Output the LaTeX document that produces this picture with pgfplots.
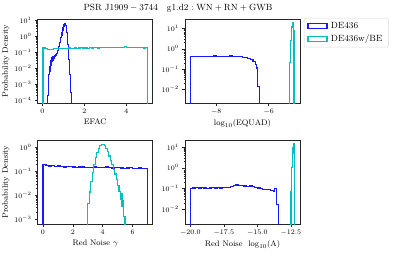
\documentclass[border=0pt]{standalone}
\usepackage{pgfplots}
\pgfplotsset{compat=1.18}
\definecolor{mplblue}{rgb}{0.1,0.1,1}
\definecolor{mplcyan}{rgb}{0,0.75,0.75}
\pgfplotsset{
  mypanel/.style={
    scale only axis, width=115pt, anchor=south west,
    tick align=outside, tick pos=left,
    axis line style={line width=0.6pt, black!85},
    every tick/.style={black!85, line width=0.5pt},
    major tick length=2.6pt, minor tick length=1.5pt,
    ticklabel style={font=\fontsize{7}{8}\selectfont},
    label style={font=\fontsize{8}{9.5}\selectfont},
    xlabel style={yshift=2pt},
    ylabel style={yshift=-2pt},
  },
  myhist/.style={const plot mark left, line width=1.2pt, line join=miter, forget plot},
}
\begin{document}
\begin{tikzpicture}
\useasboundingbox (0pt,0pt) rectangle (398pt,255pt);
\node[font=\fontsize{9}{10}\selectfont] at (178pt,247pt)
  {$\mathrm{PSR\ J1909-3744}\quad\mathrm{g1.d2:WN+RN+GWB}$};

% ---------- top-left: EFAC ----------
\begin{axis}[ymode=log, mypanel, at={(37.7pt,152pt)}, height=83.3pt,
  xmin=-0.22, xmax=5.26, ymin=6.5e-5, ymax=10.5,
  xtick={0,2,4}, ytick={1e-4,1e-3,1e-2,1e-1,1,10},
  xlabel={EFAC}, ylabel={Probability Density}]
\addplot[myhist, mplblue] coordinates {
(0.26,3e-5)(0.26,2e-4)(0.285,8e-4)(0.31,0.004)(0.335,0.012)(0.36,0.006)
(0.385,0.03)(0.41,0.015)(0.435,0.045)(0.46,0.025)(0.485,0.05)(0.51,0.03)
(0.535,0.055)(0.56,0.04)(0.585,0.06)(0.61,0.05)(0.635,0.065)(0.66,0.07)
(0.685,0.08)(0.71,0.1)(0.735,0.13)(0.76,0.17)(0.785,0.22)(0.81,0.3)
(0.835,0.4)(0.86,0.55)(0.885,0.8)(0.91,1.15)(0.935,1.6)(0.96,2.3)
(0.985,3.2)(1.01,4.2)(1.035,5.2)(1.06,5.9)(1.085,5.7)(1.11,4.6)
(1.135,3.0)(1.16,1.6)(1.185,0.75)(1.21,0.3)(1.235,0.1)(1.26,0.035)
(1.285,0.011)(1.31,0.004)(1.335,0.0012)(1.36,3e-4)(1.385,3e-5)};
\addplot[myhist, mplcyan] coordinates {
(0.03,3e-5)(0.03,0.19)(0.13,0.17)(0.23,0.15)(0.33,0.14)(0.43,0.15)
(0.53,0.16)(0.63,0.165)(0.73,0.17)(0.83,0.165)(0.93,0.17)
(1.03,0.175)(1.13,0.17)(1.23,0.18)(1.33,0.175)(1.43,0.17)
(1.53,0.18)(1.63,0.175)(1.73,0.18)(1.83,0.185)(1.93,0.18)
(2.03,0.18)(2.13,0.175)(2.23,0.185)(2.33,0.18)(2.43,0.19)
(2.53,0.185)(2.63,0.18)(2.73,0.19)(2.83,0.185)(2.93,0.19)
(3.03,0.185)(3.13,0.19)(3.23,0.195)(3.33,0.19)(3.43,0.185)
(3.53,0.19)(3.63,0.195)(3.73,0.19)(3.83,0.2)(3.93,0.23)
(4.03,0.2)(4.13,0.19)(4.23,0.195)(4.33,0.19)(4.43,0.2)
(4.53,0.19)(4.63,0.185)(4.73,0.19)(4.83,0.18)(4.93,0.185)(5.03,3e-5)};
\end{axis}

% ---------- top-right: log10 EQUAD ----------
\begin{axis}[ymode=log, mypanel, at={(185pt,152pt)}, height=83.3pt,
  xmin=-9.2, xmax=-4.8, ymin=2e-3, ymax=28,
  xtick={-8,-6}, ytick={1e-2,1e-1,1,10},
  xlabel={$\log_{10}(\mathrm{EQUAD})$},
  legend style={at={(1.033,1.022)}, anchor=north west, draw=black!15,
    line width=0.5pt,
    rounded corners=1.5pt, font=\fontsize{9}{10.5}\selectfont,
    inner xsep=3pt, inner ysep=2pt, row sep=1.2pt,
    nodes={inner xsep=3pt}, cells={anchor=west}}]
\addlegendimage{legend image code/.code={\draw[draw=mplblue,line width=1.5pt,sharp corners] (0.3pt,-2.4pt) rectangle (19.7pt,2.4pt);}}
\addlegendentry{DE436}
\addlegendimage{legend image code/.code={\draw[draw=mplcyan,line width=1.5pt,sharp corners] (0.3pt,-2.4pt) rectangle (19.7pt,2.4pt);}}
\addlegendentry{DE436w/BE}
\addplot[myhist, mplblue] coordinates {
(-9.0,1e-3)(-9.0,0.42)(-8.9,0.41)(-8.8,0.43)(-8.7,0.42)(-8.6,0.41)(-8.5,0.42)
(-8.4,0.43)(-8.3,0.41)(-8.2,0.42)(-8.1,0.44)(-8.0,0.42)(-7.9,0.43)
(-7.8,0.42)(-7.7,0.43)(-7.6,0.42)(-7.5,0.44)(-7.4,0.42)(-7.3,0.43)
(-7.2,0.42)(-7.1,0.40)(-7.0,0.38)(-6.9,0.36)(-6.8,0.33)(-6.7,0.29)
(-6.6,0.24)(-6.5,0.16)(-6.45,0.11)(-6.42,0.013)(-6.36,1e-3)};
\addplot[myhist, mplcyan] coordinates {
(-5.19,1e-3)(-5.19,0.2)(-5.17,0.8)(-5.15,2.5)(-5.13,6)(-5.11,12)
(-5.09,18)(-5.07,19)(-5.05,8)(-5.03,1e-3)};
\end{axis}

% ---------- bottom-left: red noise gamma ----------
\begin{axis}[ymode=log, mypanel, at={(37.7pt,31pt)}, height=84pt,
  xmin=-0.35, xmax=7.35, ymin=6.3e-4, ymax=2.0,
  xtick={0,2,4,6}, ytick={1e-3,1e-2,1e-1,1},
  xlabel={Red Noise $\gamma$}, ylabel={Probability Density}]
\addplot[myhist, mplblue] coordinates {
(0,3e-4)(0,0.19)(0.2,0.17)(0.4,0.165)(0.6,0.17)(0.8,0.16)(1.0,0.165)
(1.2,0.16)(1.4,0.15)(1.6,0.155)(1.8,0.16)(2.0,0.15)(2.2,0.145)
(2.4,0.15)(2.6,0.15)(2.8,0.14)(3.0,0.145)(3.2,0.14)(3.4,0.15)
(3.6,0.14)(3.8,0.145)(4.0,0.14)(4.2,0.15)(4.4,0.14)(4.6,0.135)
(4.8,0.14)(5.0,0.14)(5.2,0.135)(5.4,0.13)(5.6,0.135)(5.8,0.14)
(6.0,0.13)(6.2,0.13)(6.4,0.135)(6.6,0.125)(6.8,0.13)(7.0,3e-4)};
\addplot[myhist, mplcyan] coordinates {
(3.0,3e-4)(3.0,0.0044)(3.1,0.0135)(3.2,0.037)(3.3,0.091)(3.4,0.195)
(3.5,0.365)(3.6,0.61)(3.7,0.89)(3.8,1.14)(3.9,1.30)(4.0,1.30)
(4.1,1.16)(4.2,0.91)(4.3,0.65)(4.4,0.43)(4.5,0.28)(4.6,0.19)
(4.7,0.12)(4.8,0.076)(4.9,0.046)(5.0,0.026)(5.1,0.014)(5.2,0.0066)
(5.25,0.012)(5.3,0.0033)(5.35,0.006)(5.4,0.0013)(5.5,3e-4)};
\end{axis}

% ---------- bottom-right: red noise log10 A ----------
\begin{axis}[ymode=log, mypanel, at={(185pt,31pt)}, height=84pt,
  xmin=-20.4, xmax=-11.82, ymin=1.9e-3, ymax=22,
  xtick={-20,-17.5,-15,-12.5}, ytick={1e-2,1e-1,1,10},
  xticklabel style={/pgf/number format/.cd, fixed, fixed zerofill, precision=1},
  xlabel={Red Noise \ $\log_{10}(\mathrm{A})$}]
\addplot[myhist, mplblue] coordinates {
(-20.0,1e-3)(-20.0,0.10)(-19.8,0.105)(-19.6,0.11)(-19.4,0.105)(-19.2,0.11)
(-19.0,0.105)(-18.8,0.10)(-18.6,0.105)(-18.4,0.11)(-18.2,0.105)
(-18.0,0.11)(-17.8,0.105)(-17.6,0.11)(-17.4,0.11)(-17.2,0.115)
(-17.0,0.125)(-16.8,0.135)(-16.6,0.145)(-16.4,0.14)(-16.2,0.135)
(-16.0,0.13)(-15.8,0.125)(-15.6,0.13)(-15.4,0.12)(-15.2,0.11)
(-15.0,0.105)(-14.8,0.095)(-14.6,0.09)(-14.4,0.085)(-14.2,0.085)
(-14.0,0.08)(-13.8,0.075)(-13.7,0.10)(-13.55,0.016)(-13.4,1e-3)};
\addplot[myhist, mplcyan] coordinates {
(-12.49,1e-3)(-12.49,0.07)(-12.46,0.3)(-12.43,1.0)(-12.40,2.5)(-12.37,5)
(-12.34,9)(-12.31,12.5)(-12.28,14)(-12.25,11)(-12.22,1e-3)};
\end{axis}
\end{tikzpicture}
\end{document}
